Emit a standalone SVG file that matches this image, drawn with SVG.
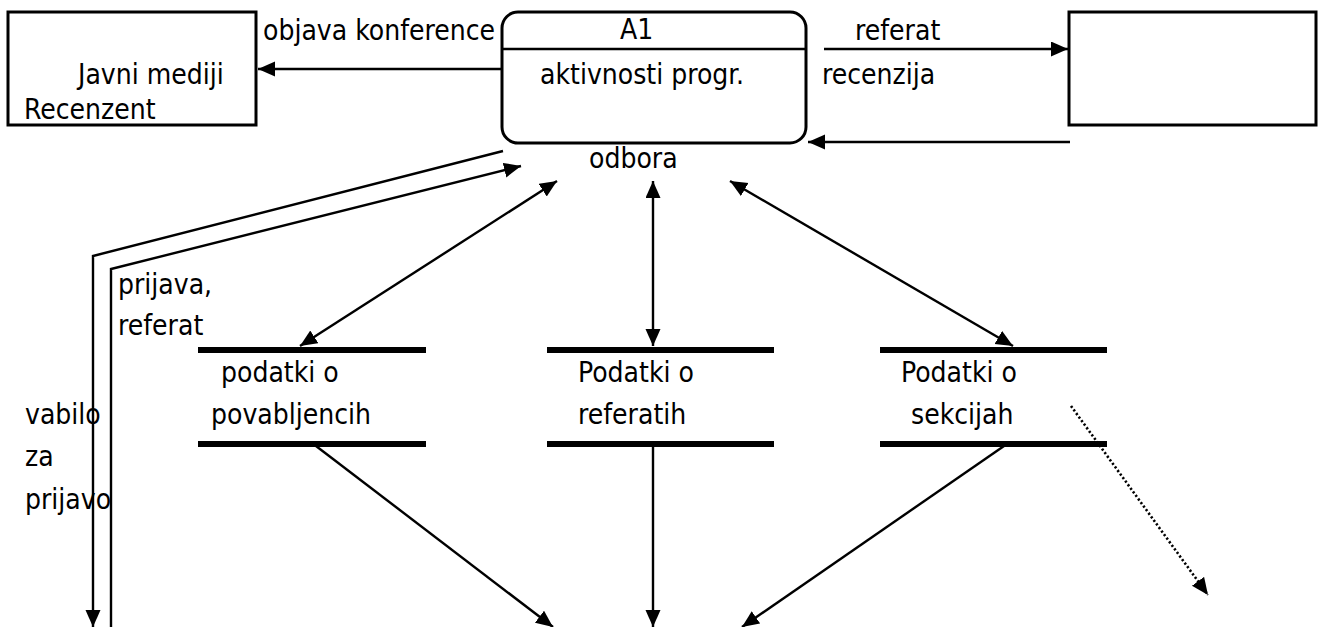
<svg xmlns="http://www.w3.org/2000/svg" width="1323" height="627" viewBox="0 0 1323 627">
<style>
text{font-family:"DejaVu Sans Condensed","DejaVu Sans","Liberation Sans",sans-serif;font-size:28px;fill:#000}
.box{fill:#fff;stroke:#000;stroke-width:3}
.ln{fill:none;stroke:#000;stroke-width:2.4}
.bar{stroke:#000;stroke-width:6}
.dot{fill:none;stroke:#000;stroke-width:2.6;stroke-dasharray:2.2 2.2}
</style>
<defs>
<marker id="ah" markerUnits="userSpaceOnUse" markerWidth="18" markerHeight="16" refX="17" refY="7.5" orient="auto-start-reverse" viewBox="0 0 18 16">
<path d="M0,0 L17,7.5 L0,15 z" fill="#000"/>
</marker>
</defs>
<rect width="1323" height="627" fill="#fff"/>
<g id="javni-mediji">
<rect class="box" x="8" y="12" width="248" height="113"/>
<text x="78" y="84">Javni mediji</text>
<text x="24" y="119">Recenzent</text>
</g>
<g id="a1">
<rect class="box" x="502" y="12" width="304" height="131" rx="16"/>
<line class="ln" x1="502" y1="49" x2="806" y2="49"/>
<text x="620" y="39">A1</text>
<text x="540" y="84">aktivnosti progr.</text>
<text x="589" y="168">odbora</text>
</g>
<g id="recenzent-box">
<rect class="box" x="1069" y="12" width="247" height="113"/>
</g>
<g id="store-povabljenci">
<line class="bar" x1="198" y1="350" x2="426" y2="350"/>
<line class="bar" x1="198" y1="444" x2="426" y2="444"/>
<text x="221" y="382">podatki o</text>
<text x="211" y="424">povabljencih</text>
</g>
<g id="store-referati">
<line class="bar" x1="547" y1="350" x2="774" y2="350"/>
<line class="bar" x1="547" y1="444" x2="774" y2="444"/>
<text x="578" y="382">Podatki o</text>
<text x="578" y="424">referatih</text>
</g>
<g id="store-sekcije">
<line class="bar" x1="880" y1="350" x2="1107" y2="350"/>
<line class="bar" x1="880" y1="444" x2="1107" y2="444"/>
<text x="901" y="382">Podatki o</text>
<text x="911" y="424">sekcijah</text>
</g>
<g id="connectors">
<line class="ln" x1="501" y1="69" x2="258" y2="69" marker-end="url(#ah)"/>
<line class="ln" x1="824" y1="49" x2="1068" y2="49" marker-end="url(#ah)"/>
<line class="ln" x1="1070" y1="142" x2="808" y2="142" marker-end="url(#ah)"/>
<polyline class="ln" points="503,151 93,256 93,627" marker-end="url(#ah)"/>
<polyline class="ln" points="111,627 111,269 521,166" marker-end="url(#ah)"/>
<line class="ln" x1="557" y1="181" x2="300" y2="346" marker-start="url(#ah)" marker-end="url(#ah)"/>
<line class="ln" x1="653" y1="181" x2="653" y2="346" marker-start="url(#ah)" marker-end="url(#ah)"/>
<line class="ln" x1="730" y1="181" x2="1013" y2="346" marker-start="url(#ah)" marker-end="url(#ah)"/>
<line class="ln" x1="316" y1="446" x2="553" y2="627" marker-end="url(#ah)"/>
<line class="ln" x1="653" y1="446" x2="653" y2="627" marker-end="url(#ah)"/>
<line class="ln" x1="1004" y1="446" x2="742" y2="627" marker-end="url(#ah)"/>
<line class="dot" x1="1071" y1="406" x2="1208" y2="595" marker-end="url(#ah)"/>
</g>
<g id="labels">
<text x="263" y="40">objava konference</text>
<text x="855" y="40">referat</text>
<text x="822" y="84">recenzija</text>
<text x="118" y="294">prijava,</text>
<text x="118" y="335">referat</text>
<text x="25" y="424">vabilo</text>
<text x="25" y="466">za</text>
<text x="25" y="509">prijavo</text>
</g>
</svg>
